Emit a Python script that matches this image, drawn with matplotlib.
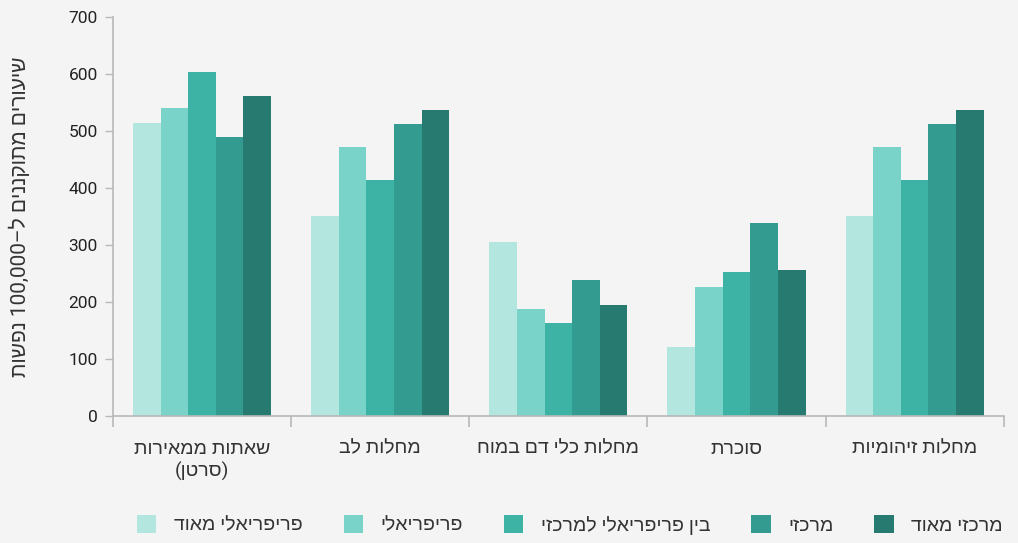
import re

import matplotlib
matplotlib.use("Agg")
import matplotlib.pyplot as plt
import numpy as np

plt.rcParams["font.family"] = ["Roboto", "Liberation Sans", "DejaVu Sans"]

categories = ["שאתות ממאירות\n(סרטן)", "מחלות לב", "מחלות כלי דם במוח", "סוכרת", "מחלות זיהומיות"]
series = ["פריפריאלי מאוד", "פריפריאלי", "בין פריפריאלי למרכזי", "מרכזי", "מרכזי מאוד"]
very_peripheral = [513, 350, 305, 121, 350]
peripheral = [540, 471, 188, 227, 471]
between = [603, 414, 163, 252, 414]
central = [490, 512, 239, 338, 512]
very_central = [562, 537, 195, 256, 537]
values = [very_peripheral, peripheral, between, central, very_central]
colors = ["#b3e6df", "#79d3c8", "#3db3a5", "#339b8f", "#267a70"]
ylabel = "שיעורים מתוקננים ל–100,000 נפשות"


def rtl(s):
    # matplotlib has no bidi: build the visual (left-to-right) order by hand
    out = []
    for line in s.split("\n"):
        toks = re.findall(r"[0-9][0-9,.]*|[^0-9]+", line)
        vis = []
        for t in reversed(toks):
            if t[0].isdigit():
                vis.append(t)
            else:
                vis.append(t[::-1].translate(str.maketrans("()", ")(")))
        out.append("".join(vis))
    return "\n".join(out)


bg = "#f4f4f4"
fig = plt.figure(figsize=(10.18, 5.43), dpi=100, facecolor=bg)
ax = fig.add_axes([0.111, 0.234, 0.875, 0.735], facecolor=bg)

x = np.arange(len(categories))
w = 0.155
for i, (vals, c, name) in enumerate(zip(values, colors, series)):
    ax.bar(x + (i - 2) * w, vals, w, color=c, label=rtl(name))

ax.set_xlim(-0.5, len(categories) - 0.5)
ax.set_ylim(0, 700)
ax.set_yticks(range(0, 701, 100))
ax.set_xticks(x)
ax.set_xticklabels([rtl(c) for c in categories], fontsize=14, color="#333333",
                   linespacing=1.3)
ax.set_xticks(np.arange(-0.5, len(categories)), minor=True)
ax.tick_params(axis="x", which="major", length=0, pad=17)
ax.tick_params(axis="x", which="minor", length=8, width=1.2, color="#b8b8b8")
ax.tick_params(axis="y", length=6, width=1, color="#b8b8b8", labelsize=12.5,
               labelcolor="#222222", pad=5)

for side in ("top", "right"):
    ax.spines[side].set_visible(False)
for side in ("left", "bottom"):
    ax.spines[side].set_color("#b8b8b8")
    ax.spines[side].set_linewidth(1.2)

ax.set_ylabel(rtl(ylabel), fontsize=15, color="#333333", labelpad=28)

ax.legend(loc="center", bbox_to_anchor=(0.513, -0.273), ncol=5, frameon=False,
          fontsize=14, handlelength=1.0, handleheight=1.0, columnspacing=2.1,
          handletextpad=0.9, labelcolor="#333333")

fig.savefig("out.png", dpi=100, facecolor=bg)
